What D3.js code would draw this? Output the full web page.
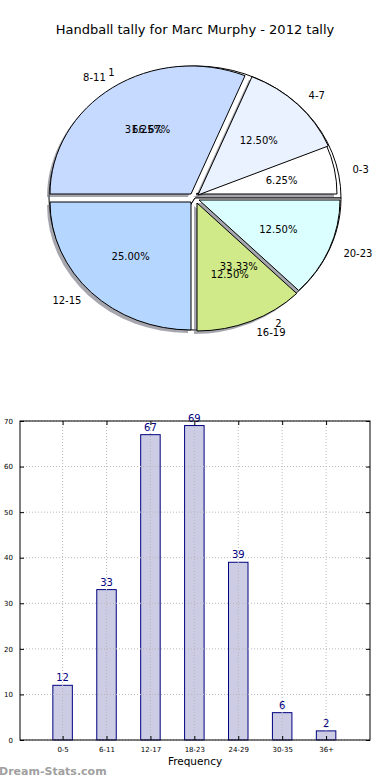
<!DOCTYPE html>
<html>
<head>
<meta charset="utf-8">
<script src="https://cdn.jsdelivr.net/npm/d3@7"></script>
<style>
  body { margin: 0; background: #fff; }
  text { font-family: "DejaVu Sans", sans-serif; }
</style>
</head>
<body>
<div id="container"></div>
<script>
let w = 390;
let h = 780;

// data
let hourLabels = ["0-3", "4-7", "8-11", "12-15", "16-19", "20-23"];
let hourPct = [6.25, 12.5, 31.25, 25, 12.5, 12.5];
let halfLabels = ["1", "2"];
let halfPct = [66.67, 33.33];
let freqCats = ["0-5", "6-11", "12-17", "18-23", "24-29", "30-35", "36+"];
let freqVals = [12, 33, 67, 69, 39, 6, 2];
let yTicks = [0, 10, 20, 30, 40, 50, 60, 70];

// styles
let sliceColors = ["#ffffff", "#eaf2ff", "#c6daff", "#b5d6ff", "#d0ea8a", "#dafffe"];
let explodeOff = [[1, -4], [3, -3], [-4, -4], [-4, 4], [2, 5], [4, 2]];

let viz = d3.select("#container").append("svg")
    .attr("width", w)
    .attr("height", h);

viz.append("text")
    .attr("x", 195).attr("y", 34)
    .attr("text-anchor", "middle")
    .style("font-size", "13px")
    .text("Handball tally for Marc Murphy - 2012 tally");

// PIE (elliptical, like the original)
let cx = 195, cy = 198;
let rx = 146, ry = 132;   // base radius
let srx = 141, sry = 128; // exploded slices radius

let pie = d3.pie().sort(null).startAngle(Math.PI / 2).endAngle(Math.PI / 2 - 2 * Math.PI);
let unitArc = d3.arc().innerRadius(0).outerRadius(1);

let pieGroup = viz.append("g").attr("class", "pieGroup");

// underlying two-slice pie
let halfArcs = pie(halfPct);
pieGroup.append("g")
    .attr("transform", `translate(${cx},${cy}) scale(${rx},${ry})`)
  .selectAll("path").data(halfArcs).enter()
  .append("path")
    .attr("d", unitArc)
    .attr("fill", "white")
    .attr("stroke", "black")
    .attr("stroke-width", 1)
    .attr("vector-effect", "non-scaling-stroke");

let hourArcs = pie(hourPct);

// shadows
pieGroup.selectAll(".shadow").data(hourArcs).enter()
  .append("path")
    .attr("class", "shadow")
    .attr("transform", (d, i) => `translate(${cx + explodeOff[i][0] - 3},${cy + explodeOff[i][1] + 3}) scale(${srx},${sry})`)
    .attr("d", unitArc)
    .attr("fill", "#6a6a78")
    .attr("opacity", 0.6);

// slices
pieGroup.selectAll(".slice").data(hourArcs).enter()
  .append("path")
    .attr("class", "slice")
    .attr("transform", (d, i) => `translate(${cx + explodeOff[i][0]},${cy + explodeOff[i][1]}) scale(${srx},${sry})`)
    .attr("d", unitArc)
    .attr("fill", (d, i) => sliceColors[i])
    .attr("stroke", "black")
    .attr("stroke-width", 1)
    .attr("vector-effect", "non-scaling-stroke");

function midTheta(d) {
  return Math.PI / 2 - (d.startAngle + d.endAngle) / 2;
}

function addLabels(arcs, names, useOff) {
  arcs.forEach(function(d, i) {
    let t = midTheta(d);
    let ox = useOff ? explodeOff[i][0] * 0.6 : 0;
    let oy = useOff ? explodeOff[i][1] * 0.6 : 0;
    let lx = cx + 1.1 * rx * Math.cos(t);
    let ly = cy - 1.1 * ry * Math.sin(t);
    pieGroup.append("text")
        .attr("x", lx).attr("y", ly).attr("dy", "0.35em")
        .attr("text-anchor", Math.cos(t) > 0 ? "start" : "end")
        .style("font-size", "10px")
        .text(names[i]);
    let px = cx + 0.6 * rx * Math.cos(t) + ox;
    let py = cy - 0.6 * ry * Math.sin(t) + oy;
    pieGroup.append("text")
        .attr("x", px).attr("y", py).attr("dy", "0.35em")
        .attr("text-anchor", "middle")
        .style("font-size", "10px")
        .text(d.data.toFixed(2) + "%");
  });
}
addLabels(hourArcs, hourLabels, true);
addLabels(halfArcs, halfLabels, false);

// BAR CHART
let pLeft = 20, pRight = 370, pTop = 421, pBottom = 740;
let xScale = d3.scaleLinear().domain([-0.97, 7]).range([pLeft, pRight]);
let yScale = d3.scaleLinear().domain([0, 70]).range([pBottom, pTop]);
let barW = 19.5;

let barGroup = viz.append("g").attr("class", "barGroup");

barGroup.selectAll(".bar").data(freqVals).enter()
  .append("rect")
    .attr("class", "bar")
    .attr("x", (d, i) => xScale(i) - barW / 2)
    .attr("y", d => yScale(d))
    .attr("width", barW)
    .attr("height", d => pBottom - yScale(d))
    .attr("fill", "#ccccE4")
    .attr("stroke", "#000080")
    .attr("stroke-width", 1);

// grid on top of bars
barGroup.selectAll(".hgrid").data(yTicks).enter()
  .append("line")
    .attr("x1", pLeft).attr("x2", pRight)
    .attr("y1", d => yScale(d)).attr("y2", d => yScale(d))
    .attr("stroke", "#b8b8b8")
    .attr("stroke-dasharray", "1,2");
barGroup.selectAll(".vgrid").data(freqCats).enter()
  .append("line")
    .attr("x1", (d, i) => xScale(i)).attr("x2", (d, i) => xScale(i))
    .attr("y1", pTop).attr("y2", pBottom)
    .attr("stroke", "#b8b8b8")
    .attr("stroke-dasharray", "1,2");

// value labels
barGroup.selectAll(".val").data(freqVals).enter()
  .append("text")
    .attr("x", (d, i) => xScale(i))
    .attr("y", d => yScale(d) - 4)
    .attr("text-anchor", "middle")
    .attr("fill", "#000080")
    .style("font-size", "10px")
    .text(d => d);

// axes (inside ticks, both sides)
let axL = d3.axisLeft(yScale).tickValues(yTicks).tickSize(-4).tickPadding(7);
let axR = d3.axisRight(yScale).tickValues(yTicks).tickSize(-4).tickFormat("");
let axB = d3.axisBottom(xScale).tickValues(d3.range(freqCats.length)).tickSize(-4).tickPadding(7)
    .tickFormat(i => freqCats[i]);
let axT = d3.axisTop(xScale).tickValues(d3.range(freqCats.length)).tickSize(-4).tickFormat("");

function styleAxis(g) {
  g.select(".domain").remove();
  g.selectAll("text").style("font-size", "7px").style("font-family", "DejaVu Sans, sans-serif").attr("fill", "#000");
  g.selectAll("line").attr("stroke", "#000");
}
viz.append("g").attr("transform", `translate(${pLeft},0)`).call(axL).call(styleAxis);
viz.append("g").attr("transform", `translate(${pRight},0)`).call(axR).call(styleAxis);
viz.append("g").attr("transform", `translate(0,${pBottom})`).call(axB).call(styleAxis);
viz.append("g").attr("transform", `translate(0,${pTop})`).call(axT).call(styleAxis);

viz.append("rect")
    .attr("x", pLeft).attr("y", pTop)
    .attr("width", pRight - pLeft).attr("height", pBottom - pTop)
    .attr("fill", "none")
    .attr("stroke", "black")
    .attr("stroke-width", 1);

viz.append("text")
    .attr("x", (pLeft + pRight) / 2).attr("y", 765)
    .attr("text-anchor", "middle")
    .style("font-size", "10.5px")
    .text("Frequency");

viz.append("text")
    .attr("x", -1).attr("y", 775)
    .attr("fill", "#a0a0a0")
    .style("font-size", "11px")
    .style("font-weight", "bold")
    .text("Dream-Stats.com");
</script>
</body>
</html>
